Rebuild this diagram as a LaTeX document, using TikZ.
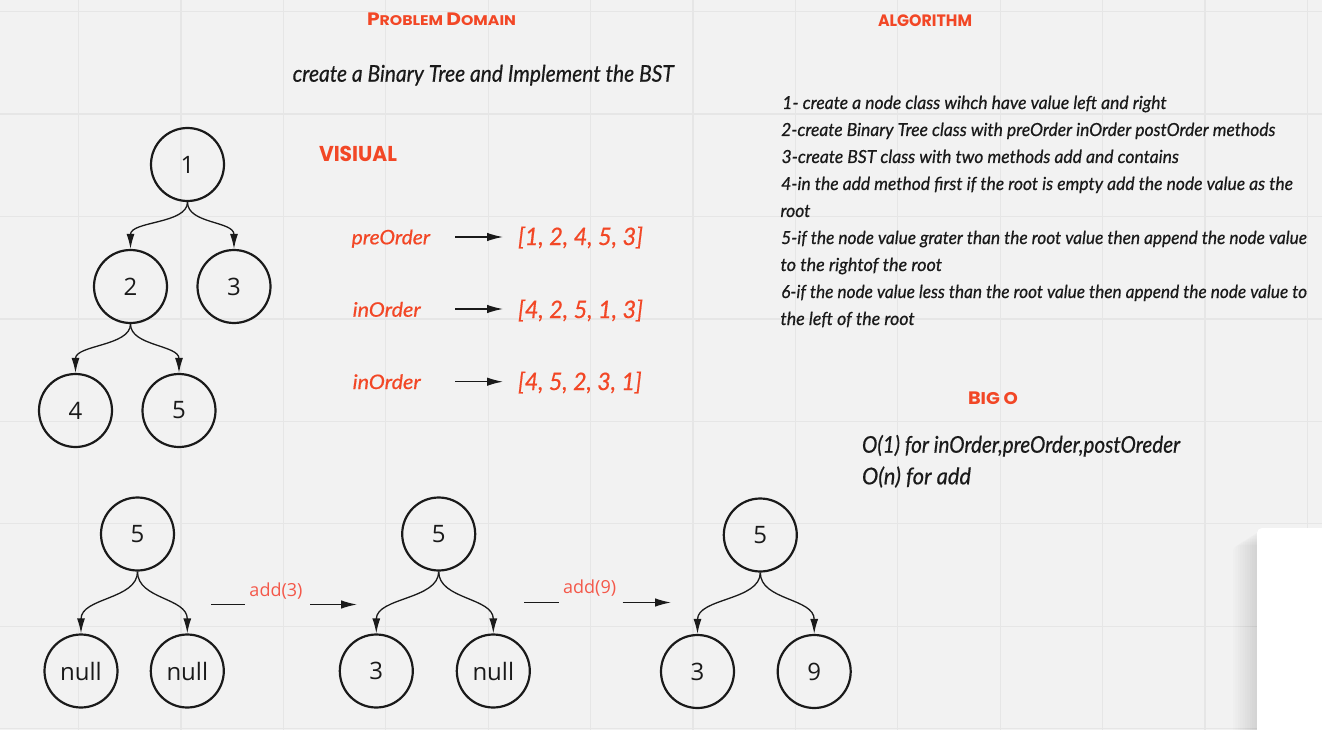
\documentclass[tikz,border=0pt]{standalone}
\usepackage{fontspec}
\usepackage{graphicx}
\setmainfont{Open Sans}
\newfontfamily\handfont[FakeBold=0.6]{Lato}
\newfontfamily\markfont{Poppins}
\usetikzlibrary{arrows.meta}
\definecolor{bg}{HTML}{F2F2F2}
\definecolor{gridc}{HTML}{E6E6E6}
\definecolor{redo}{HTML}{F24726}
\definecolor{addc}{HTML}{F4584A}
\definecolor{ink}{HTML}{1A1A1A}
\newcommand{\fitw}[2]{\resizebox{#1pt}{\height}{#2}}
\begin{document}
\begin{tikzpicture}[x=1pt,y=-1pt,
  tn/.style={circle,draw=ink,line width=2.2pt,minimum size=73pt,inner sep=0pt,
    font=\fontsize{24}{24}\selectfont,text=ink},
  tedge/.style={draw=ink,line width=1.3pt,-{Latex[length=15pt,width=8pt]}},
  farrow/.style={draw=ink,line width=1.3pt,-{Latex[length=16pt,width=8.5pt]}},
  fline/.style={draw=ink,line width=1.3pt},
  gridline/.style={draw=gridc,line width=1.2pt},
  txt/.style={inner sep=0pt,outer sep=0pt,anchor=base west},
  alg/.style={txt,text=ink,font=\handfont\itshape\fontsize{18}{20}\selectfont},
  bigo/.style={txt,text=ink,font=\handfont\itshape\fontsize{23}{25}\selectfont},
  vis/.style={txt,text=redo,font=\handfont\itshape\fontsize{20}{22}\selectfont},
  lst/.style={txt,text=redo,font=\handfont\itshape\fontsize{24}{25}\selectfont},
  head/.style={txt,text=redo,font=\markfont\bfseries},
  addlab/.style={inner sep=0pt,text=addc,font=\fontsize{18}{18}\selectfont}]
% background and grid
\fill[bg] (0,0) rectangle (1322,730);
\useasboundingbox (0,0) rectangle (1322,730);
\foreach \i in {0,...,12} \draw[gridline] ({78.5+102.4*\i},0) -- ({78.5+102.4*\i},730);
\foreach \j in {0,...,7} \draw[gridline] (0,{11.7+102.4*\j}) -- (1322,{11.7+102.4*\j});
% white panel with soft shadow
\foreach \k in {1,...,10} \fill[black,opacity=0.010,rounded corners=6pt] ({1257-2.4*\k},{530+1.5*\k}) rectangle (1340,750);
\fill[white,rounded corners=5pt] (1257,528) rectangle (1340,750);
% headings
\node[head] (hpd) at (367,26) {\fitw{149}{\fontsize{18}{18}\selectfont P\fontsize{14}{14}\selectfont ROBLEM \fontsize{18}{18}\selectfont D\fontsize{14}{14}\selectfont OMAIN}};
\node[head] (halg) at (878,26.7) {\fitw{94}{\fontsize{16.5}{17}\selectfont ALGORITHM}};
\node[head] (hvis) at (319,161.7) {\fitw{78}{\fontsize{21.5}{22}\selectfont VISIUAL}};
\node[head] (hbig) at (968,404) {\fitw{50}{\fontsize{18}{18}\selectfont B\fontsize{17}{17}\selectfont IG O}};
% problem statement
\node[txt,text=ink,font=\handfont\itshape\fontsize{23}{25}\selectfont] (prob) at (292.7,81.7) {\fitw{381}{create a Binary Tree and Implement the BST}};
% algorithm
\node[alg] (al1) at (782.3,109) {\fitw{384.2}{1- create a node class wihch have value left and right}};
\node[alg] (al2) at (781.2,136) {\fitw{494.1}{2-create Binary Tree class with preOrder inOrder postOrder methods}};
\node[alg] (al3) at (781.6,163) {\fitw{397.2}{3-create BST class with two methods add and contains}};
\node[alg] (al4) at (781.2,190) {\fitw{511.6}{4-in the add method first if the root is empty add the node value as the}};
\node[alg] (al5) at (780.5,217) {\fitw{29.9}{root}};
\node[alg] (al6) at (781.2,244) {\fitw{525.6}{5-if the node value grater than the root value then append the node value}};
\node[alg] (al7) at (780.5,271) {\fitw{161.5}{to the rightof the root}};
\node[alg] (al8) at (781.2,298) {\fitw{525.6}{6-if the node value less than the root value then append the node value to}};
\node[alg] (al9) at (780.5,325) {\fitw{134.1}{the left of the root}};
% big O
\node[bigo] (bo1) at (862,452.7) {\fitw{318}{O(1) for inOrder,preOrder,postOreder}};
\node[bigo] (bo2) at (862,484.3) {\fitw{109}{O(n) for add}};
% visual
\node[vis] (v1) at (351.7,244.3) {\fitw{78.3}{preOrder}};
\node[vis] (v2) at (352.7,316.7) {\fitw{68}{inOrder}};
\node[vis] (v3) at (352.7,389) {\fitw{68}{inOrder}};
\node[lst] (l1) at (518,245) {\fitw{125}{[1, 2, 4, 5, 3]}};
\node[lst] (l2) at (518,318) {\fitw{125}{[4, 2, 5, 1, 3]}};
\node[lst] (l3) at (518,390) {\fitw{123.7}{[4, 5, 2, 3, 1]}};
\coordinate (v1s) at (455,237);
\coordinate (v1e) at (503,237);
\coordinate (v2s) at (455,309);
\coordinate (v2e) at (503,309);
\coordinate (v3s) at (455,381.7);
\coordinate (v3e) at (503,381.7);
\draw[farrow] (v1s) -- (v1e);
\draw[farrow] (v2s) -- (v2e);
\draw[farrow] (v3s) -- (v3e);
% tree 1
\node[tn] (t1) at (187.5,164.5) {1};
\node[tn] (t2) at (130.5,286.5) {2};
\node[tn] (t3) at (234,286.5) {3};
\node[tn] (t4) at (75.5,410.5) {4};
\node[tn] (t5) at (179,410.5) {5};
\draw[tedge] (t1.south) .. controls +(0,22) and +(0,-28) .. (t2.north);
\draw[tedge] (t1.south) .. controls +(0,22) and +(0,-28) .. (t3.north);
\draw[tedge] (t2.south) .. controls +(0,22) and +(0,-28) .. (t4.north);
\draw[tedge] (t2.south) .. controls +(0,22) and +(0,-28) .. (t5.north);
% bottom tree A
\node[tn] (a5) at (137.5,534) {5};
\node[tn] (an1) at (81,671) {null};
\node[tn] (an2) at (187.3,671) {null};
\draw[tedge] (a5.south) .. controls +(0,28) and +(0,-36) .. (an1.north);
\draw[tedge] (a5.south) .. controls +(0,28) and +(0,-36) .. (an2.north);
% bottom tree B
\node[tn] (b5) at (438.7,534) {5};
\node[tn] (b3) at (376.3,671) {3};
\node[tn] (bn) at (493.3,671) {null};
\draw[tedge] (b5.south) .. controls +(0,28) and +(0,-36) .. (b3.north);
\draw[tedge] (b5.south) .. controls +(0,28) and +(0,-36) .. (bn.north);
% bottom tree C
\node[tn] (c5) at (760.3,535) {5};
\node[tn] (c3) at (697.5,671.5) {3};
\node[tn] (c9) at (814.2,671.5) {9};
\draw[tedge] (c5.south) .. controls +(0,28) and +(0,-36) .. (c3.north);
\draw[tedge] (c5.south) .. controls +(0,28) and +(0,-36) .. (c9.north);
% add connectors
\coordinate (p1s) at (211,604.5);
\coordinate (p1a) at (245,604.5);
\coordinate (p1b) at (310,604.5);
\coordinate (p1e) at (357,604.5);
\node[addlab] (add3) at (276,591) {add(3)};
\draw[fline] (p1s) -- (p1a);
\draw[farrow] (p1b) -- (p1e);
\coordinate (p2s) at (524.3,602.5);
\coordinate (p2a) at (558.6,602.5);
\coordinate (p2b) at (622.7,602.5);
\coordinate (p2e) at (671,602.5);
\node[addlab] (add9) at (589.6,588) {add(9)};
\draw[fline] (p2s) -- (p2a);
\draw[farrow] (p2b) -- (p2e);
\end{tikzpicture}
\end{document}
